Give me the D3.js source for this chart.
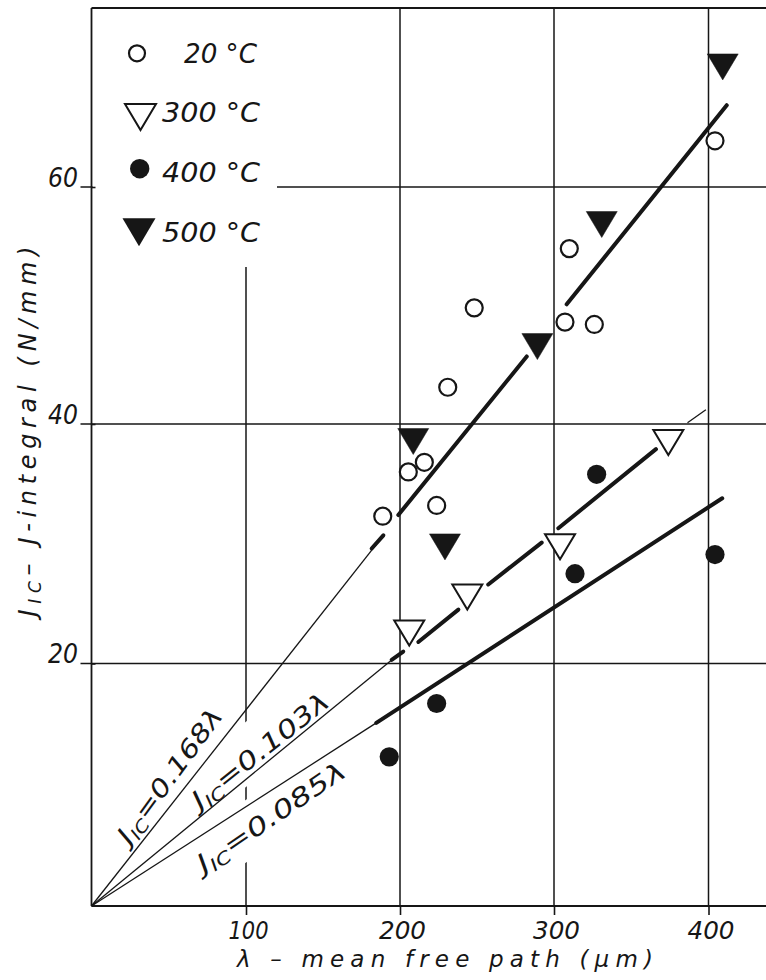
<!DOCTYPE html>
<html><head><meta charset="utf-8">
<script src="https://cdn.jsdelivr.net/npm/d3@7"></script>
<style>
html,body{margin:0;padding:0;background:#fff;}
svg{display:block;}
text{font-family:"DejaVu Sans",sans-serif;font-style:italic;fill:#161616;}
</style></head><body>
<svg id="chart" width="766" height="980"></svg>
<script>
// ---------- data ----------
const xTicks = [100, 200, 300, 400];
const xTickLabels = ["100", "200", "300", "400"];
const yTicks = [20, 40, 60];
const yTickLabels = ["20", "40", "60"];
const seriesNames = ["20 °C", "300 °C", "400 °C", "500 °C"];
const xTitle = "λ – mean free path (μm)";
const yTitleParts = ["J", "IC", "– J-integral (N/mm)"];
const fitCoeffs = ["0.168", "0.103", "0.085"];

// [lambda (µm), J_IC (N/mm)]
const p20  = [[188.8,32.3],[205.4,36.0],[215.8,36.8],[223.8,33.2],[231.0,43.1],[248.2,49.8],[307.1,48.6],[309.9,54.8],[326.1,48.4],[404.2,63.9]];
const p300 = [[206.0,22.9],[243.7,25.9],[303.9,30.1],[374.0,38.8]];
const p400 = [[193.0,12.3],[223.8,16.7],[313.6,27.5],[327.6,35.8],[404.2,29.1]];
const p500 = [[409.2,70.5],[330.9,57.2],[289.2,46.9],[208.6,38.9],[229.2,30.1]];

// fitted lines as drawn (segments)
const fit168Thin  = [[[0,0],[189.2,30.7]]];
const fit168Thick = [[[181.6,29.6],[189.2,30.7]],[[198.9,32.4],[282.3,45.7]],[[308.2,50.1],[411.8,66.9]]];
const fit103Thin  = [[[0,0],[194.6,20.3]],[[386.4,40.1],[398.3,41.2]]];
const fit103Thick = [[[194.6,20.3],[202.1,21.0]],[[211.9,21.8],[237.9,24.5]],[[257.3,26.6],[292.0,30.1]],[[302.8,31.3],[366.0,37.9]]];
const fit085Thin  = [[[0,0],[184.6,15.1]]];
const fit085Thick = [[[184.6,15.1],[408.9,33.8]]];

// ---------- layout ----------
const W = 766, H = 980, TOP = 8, INK = "#161616";
const x = d3.scaleLinear().domain([0,100,200,300,400]).range([91.5,246,400,554,708.5]);
const y = d3.scaleLinear().domain([0,20,40,60]).range([906,663.5,424,187]);
const svg = d3.select("#chart");
svg.append("rect").attr("width", W).attr("height", H).attr("fill", "#fff");

const g = svg.append("g");
// vertical grid
g.selectAll("line.vg").data(xTicks).join("line")
  .attr("x1", d => x(d)).attr("x2", d => x(d))
  .attr("y1", TOP).attr("y2", y(0))
  .attr("stroke", INK).attr("stroke-width", 1.5);
// horizontal grid
g.selectAll("line.hg").data(yTicks).join("line")
  .attr("x1", x(0) - 11).attr("x2", W)
  .attr("y1", d => y(d)).attr("y2", d => y(d))
  .attr("stroke", INK).attr("stroke-width", 1.5);

// legend white-out
svg.append("rect").attr("x", x(0) + 1).attr("y", TOP + 1)
  .attr("width", 277 - x(0) - 1).attr("height", 267 - TOP - 1).attr("fill", "#fff");

// line label white-outs + label defs
const labelDefs = [
  {at:[55.1,10.33], angle:-53.8, len:160, box:[-20,6]},
  {at:[112.7,12.27], angle:-38.6, len:168, box:[-40,11]},
  {at:[119.4,6.75], angle:-34.2, len:174, box:[-37,15]}
];
labelDefs.forEach(L => {
  svg.append("rect")
    .attr("transform", `translate(${x(L.at[0])},${y(L.at[1])}) rotate(${L.angle})`)
    .attr("x", -L.len/2 - 6).attr("y", L.box[0])
    .attr("width", L.len + 12).attr("height", L.box[1] - L.box[0])
    .attr("fill", "#fff");
});

// frame
svg.append("line").attr("x1", x(0)).attr("x2", x(0)).attr("y1", TOP).attr("y2", y(0))
  .attr("stroke", INK).attr("stroke-width", 1.8);
svg.append("line").attr("x1", x(0)).attr("x2", W).attr("y1", y(0)).attr("y2", y(0))
  .attr("stroke", INK).attr("stroke-width", 1.8);
svg.append("line").attr("x1", x(0)).attr("x2", W).attr("y1", TOP).attr("y2", TOP)
  .attr("stroke", INK).attr("stroke-width", 1.8);

// axes (ticks + labels)
const ax = svg.append("g").attr("transform", `translate(0,${y(0)})`)
  .call(d3.axisBottom(x).tickValues(xTicks).tickSize(9).tickFormat((d,i) => xTickLabels[i]));
ax.select(".domain").remove();
ax.selectAll("line").attr("stroke", INK).attr("stroke-width", 1.6);
ax.selectAll("text").attr("y", 32.5).attr("dy", 0).attr("x", 2)
  .attr("font-size", 25).attr("font-family", null).attr("fill", INK)
  .attr("textLength", (d,i) => i === 0 ? 40 : 47).attr("lengthAdjust", "spacingAndGlyphs");

const ay = svg.append("g").attr("transform", `translate(${x(0)},0)`)
  .call(d3.axisLeft(y).tickValues(yTicks).tickSize(11).tickFormat((d,i) => yTickLabels[i]));
ay.select(".domain").remove();
ay.selectAll("line").attr("stroke", INK).attr("stroke-width", 1.6).attr("x2", 4);
ay.selectAll("text").attr("x", -13.5).attr("y", -1).attr("dy", 0)
  .attr("font-size", 26).attr("font-family", null).attr("fill", INK)
  .attr("textLength", 30).attr("lengthAdjust", "spacingAndGlyphs");

// fitted lines
function segs(data, w) {
  svg.append("g").selectAll("line").data(data).join("line")
    .attr("x1", d => x(d[0][0])).attr("y1", d => y(d[0][1]))
    .attr("x2", d => x(d[1][0])).attr("y2", d => y(d[1][1]))
    .attr("stroke", INK).attr("stroke-width", w).attr("stroke-linecap", w > 2 ? "round" : "butt");
}
segs(fit168Thin, 1.3); segs(fit103Thin, 1.3); segs(fit085Thin, 1.3);
segs(fit168Thick, 4); segs(fit103Thick, 4); segs(fit085Thick, 4);

// markers
const tri = (w, h) => `M${-w/2},${-h/3}L${w/2},${-h/3}L0,${2*h/3}Z`;
function circles(data, r, filled) {
  svg.append("g").selectAll("circle").data(data).join("circle")
    .attr("cx", d => x(d[0])).attr("cy", d => y(d[1])).attr("r", r)
    .attr("fill", filled ? INK : "#fff").attr("stroke", INK).attr("stroke-width", filled ? 0 : 2.2);
}
function tris(data, w, h, filled) {
  svg.append("g").selectAll("path").data(data).join("path")
    .attr("transform", d => `translate(${x(d[0])},${y(d[1])})`)
    .attr("d", tri(w, h))
    .attr("fill", filled ? INK : "#fff").attr("stroke", INK)
    .attr("stroke-width", filled ? 0.5 : 2).attr("stroke-linejoin", "miter");
}
circles(p20, 8.5, false);
tris(p300, 30, 25, false);
circles(p400, 9.6, true);
tris(p500, 31, 26, true);

// legend
const lg = svg.append("g");
lg.append("circle").attr("cx", 137).attr("cy", 53.3).attr("r", 8).attr("fill", "#fff").attr("stroke", INK).attr("stroke-width", 2.2);
lg.append("path").attr("transform", "translate(140.5,112.7)").attr("d", tri(31, 26)).attr("fill", "#fff").attr("stroke", INK).attr("stroke-width", 2);
lg.append("circle").attr("cx", 139.7).attr("cy", 168.7).attr("r", 9.7).attr("fill", INK);
lg.append("path").attr("transform", "translate(139,227.5)").attr("d", tri(33, 28)).attr("fill", INK);
const legPos = [[184,63.3,73],[162,121.7,98],[162,181.7,98],[162,241.7,98]];
lg.selectAll("text").data(seriesNames).join("text")
  .attr("x", (d,i) => legPos[i][0]).attr("y", (d,i) => legPos[i][1])
  .attr("textLength", (d,i) => legPos[i][2]).attr("lengthAdjust", "spacingAndGlyphs")
  .attr("font-size", 26).text(d => d);

// fit labels
labelDefs.forEach((L, i) => {
  const t = svg.append("text")
    .attr("transform", `translate(${x(L.at[0])},${y(L.at[1])}) rotate(${L.angle})`)
    .attr("text-anchor", "middle").attr("font-size", 25)
    .attr("textLength", L.len).attr("lengthAdjust", "spacingAndGlyphs");
  t.append("tspan").text("J");
  t.append("tspan").attr("font-size", 17).attr("dy", 5).text("IC");
  t.append("tspan").attr("dy", -5).text("=" + fitCoeffs[i] + "λ");
});

// axis titles
svg.append("text").attr("x", 445).attr("y", 967).attr("text-anchor", "middle")
  .attr("font-size", 23).attr("textLength", 416).attr("lengthAdjust", "spacing").text(xTitle);
const yt = svg.append("text").attr("transform", "translate(36,431.5) rotate(-90)")
  .attr("text-anchor", "middle").attr("font-size", 24)
  .attr("textLength", 370).attr("lengthAdjust", "spacing");
yt.append("tspan").text(yTitleParts[0]);
yt.append("tspan").attr("font-size", 17).attr("dy", 5).text(yTitleParts[1]);
yt.append("tspan").attr("dy", -5).text(yTitleParts[2]);
</script>
</body></html>
